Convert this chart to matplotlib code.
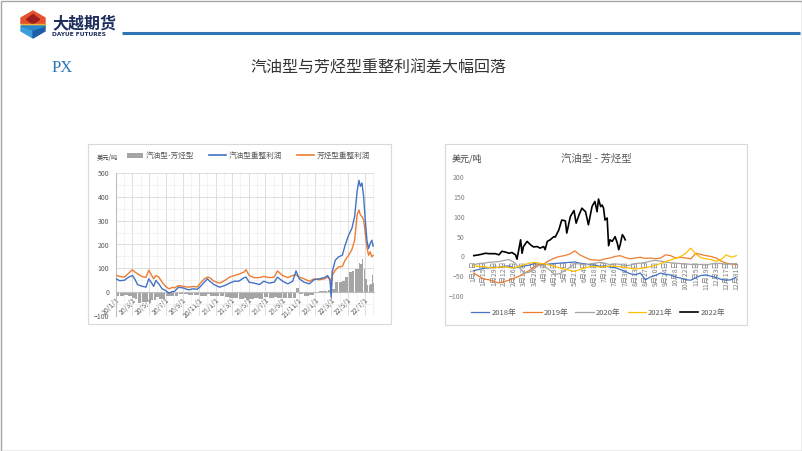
import matplotlib.pyplot as plt
import matplotlib.dates as mdates
from matplotlib.patches import Polygon, Rectangle, Patch
from matplotlib.lines import Line2D
import numpy as np
import pandas as pd

plt.rcParams['font.family'] = ['Noto Sans CJK SC', 'DejaVu Sans']

# 左图：汽油型/芳烃型重整利润 (美元/吨)
dates_l = ['2020-01-02', '2020-01-15', '2020-02-01', '2020-02-15', '2020-03-01', '2020-03-10',
           '2020-03-20', '2020-04-05', '2020-04-20', '2020-04-30', '2020-05-10', '2020-05-18',
           '2020-05-26', '2020-06-06', '2020-06-18', '2020-07-01', '2020-07-13', '2020-07-25',
           '2020-08-03', '2020-08-18', '2020-09-05', '2020-09-22', '2020-10-12', '2020-10-25',
           '2020-11-03', '2020-11-20', '2020-12-01', '2020-12-10', '2020-12-25', '2021-01-15',
           '2021-02-03', '2021-02-20', '2021-03-10', '2021-03-26', '2021-04-15', '2021-04-22',
           '2021-05-03', '2021-05-21', '2021-06-10', '2021-06-26', '2021-07-15', '2021-08-03',
           '2021-08-15', '2021-09-03', '2021-09-22', '2021-10-10', '2021-10-22', '2021-11-03',
           '2021-11-20', '2021-12-10', '2021-12-27', '2022-01-15', '2022-02-03', '2022-02-15',
           '2022-02-24', '2022-02-28', '2022-03-04', '2022-03-15', '2022-03-27', '2022-04-10',
           '2022-04-20', '2022-05-03', '2022-05-15', '2022-05-25', '2022-06-03', '2022-06-10',
           '2022-06-15', '2022-06-21', '2022-06-27', '2022-07-03', '2022-07-09', '2022-07-15',
           '2022-07-21', '2022-07-27', '2022-08-01']
gasoline = [55, 48, 50, 62, 70, 55, 32, 25, 21, 56, 40, 24,
            49, 35, 14, 7, -4, 2, 4, 21, 17, 10, 14, 12,
            21, 42, 56, 46, 32, 21, 28, 38, 46, 46, 61, 63,
            42, 38, 32, 46, 38, 42, 63, 46, 35, 46, 89, 56,
            42, 35, 52, 56, 61, 70, 49, -21, 85, 134, 148, 155,
            197, 239, 268, 317, 423, 469, 444, 458, 401, 303, 218, 183,
            204, 218, 193]
aromatic = [70, 66, 63, 78, 94, 85, 77, 66, 62, 92, 72, 56,
            70, 63, 42, 24, 14, 20, 18, 28, 24, 21, 24, 22,
            35, 56, 63, 61, 46, 38, 49, 63, 70, 75, 85, 94,
            70, 61, 61, 66, 61, 63, 89, 70, 61, 70, 72, 63,
            56, 46, 56, 52, 56, 63, 56, 7, 70, 92, 106, 108,
            134, 155, 179, 218, 324, 345, 324, 317, 303, 246, 190, 155,
            169, 148, 155]
xtick_dates_l = ['2020-01-01', '2020-03-01', '2020-05-01', '2020-07-01', '2020-09-01', '2020-11-01',
                 '2021-01-01', '2021-03-01', '2021-05-01', '2021-07-01', '2021-09-01', '2021-11-01',
                 '2022-01-01', '2022-03-01', '2022-05-01', '2022-07-01']
xtick_labels_l = ['20/1/1', '20/3/1', '20/5/1', '20/7/1', '20/9/1', '20/11/1',
                  '21/1/1', '21/3/1', '21/5/1', '21/7/1', '21/9/1', '21/11/1',
                  '22/1/1', '22/3/1', '22/5/1', '22/7/1']

# 右图：汽油型-芳烃型 季节性 (按周读数)
doy_week = list(range(0, 365, 7))
y2018 = [-36, -33, -30, -29, -27, -28, -25, -24, -29, -27, -24, -22, -18, -20, -21, -19, -18, -17,
         -16, -15, -14, -17, -19, -21, -22, -25, -24, -27, -28, -33, -38, -44, -46, -42, -59, -52,
         -48, -42, -45, -47, -52, -55, -59, -60, -54, -48, -47, -50, -53, -58, -60, -59, -52]
y2019 = [-42, -50, -57, -59, -63, -67, -64, -60, -55, -50, -42, -36, -25, -20, -18, -10, -4, 0,
         2, 6, 14, 4, -2, -8, -9, -10, -6, -4, 0, 2, -3, -6, -4, -2, -5, -4,
         -6, -4, 4, 2, -4, -2, -4, -6, 8, 5, 2, 0, -4, -12, -17, -19, -21]
y2020 = [-21, -18, -17, -15, -14, -13, -10, -8, -15, -28, -42, -40, -30, -22, -25, -34, -45, -44,
         -36, -28, -18, -19, -21, -19, -17, -15, -17, -21, -19, -20, -24, -22, -18, -17, -15, -12,
         -10, -12, -14, -16, -17, -18, -19, -20, -21, -20, -22, -19, -17, -18, -20, -19, -18]
y2021 = [-24, -25, -26, -28, -29, -27, -26, -28, -29, -25, -21, -17, -15, -17, -19, -22, -25, -29,
         -32, -35, -38, -33, -29, -26, -25, -27, -26, -24, -25, -26, -28, -30, -32, -30, -29, -26,
         -22, -18, -13, -9, -5, 0, 8, 21, 6, -3, -6, -8, -12, -8, 4, -2, 2]
doy_2022 = [0, 7, 12, 16, 21, 30, 35, 39, 44, 49, 53, 58, 60, 65, 67, 69, 74, 79, 83, 88, 92, 97,
            99, 102, 106, 111, 113, 118, 122, 127, 129, 134, 139, 142, 146, 150, 155, 159, 164,
            168, 171, 173, 176, 178, 180, 182, 185, 187, 189, 192, 196, 199, 201, 203, 206, 208, 210]
y2022 = [2, 4, 6, 8, 7, 7, 4, 13, 11, 8, 10, 4, -7, 42, 8, 25, 38, 29, 24, 25, 21, 25,
         17, 38, 42, 50, 49, 67, 92, 90, 59, 101, 116, 84, 105, 122, 113, 80, 126,
         139, 113, 145, 126, 130, 122, 92, 97, 27, 42, 38, 50, 34, 17, 29, 55, 50, 42]
xtick_doy = list(range(0, 365, 14))
xtick_labels_r = ['1月1日', '1月15日', '1月29日', '2月12日', '2月26日', '3月12日', '3月26日',
                  '4月9日', '4月23日', '5月7日', '5月21日', '6月4日', '6月18日', '7月2日',
                  '7月16日', '7月30日', '8月13日', '8月27日', '9月10日', '9月24日', '10月8日',
                  '10月22日', '11月5日', '11月19日', '12月3日', '12月17日', '12月31日']

W, H = 802, 451
fig = plt.figure(figsize=(W / 100, H / 100), dpi=100)

# 背景层（像素坐标）
bg = fig.add_axes([0, 0, 1, 1], zorder=0)
bg.set_xlim(0, W)
bg.set_ylim(H, 0)
bg.axis('off')
bg.add_patch(Rectangle((0.5, 0.5), W - 1, H - 1, fill=False, ec='#A6A6A6', lw=1))

# logo
bg.add_patch(Polygon([(33, 11), (45, 18), (45, 24), (21, 24), (21, 18)], color='#E4512B'))
bg.add_patch(Polygon([(33, 14.5), (39.5, 19.5), (33, 24), (26.5, 19.5)], color='#9C1E1E'))
bg.add_patch(Polygon([(21, 24), (45, 24), (45, 26), (21, 26)], color='#F2B632'))
bg.add_patch(Polygon([(21, 26), (33, 30), (33, 38), (21, 31)], color='#3C9FDB'))
bg.add_patch(Polygon([(45, 26), (33, 30), (33, 38), (45, 31)], color='#1D5EA8'))
bg.add_patch(Polygon([(21, 26), (45, 26), (33, 30)], color='#2B86C9'))
bg.text(52, 23, '大越期货', fontsize=11.5, fontweight='bold', color='#1E2D5C', va='center', ha='left')
bg.text(52, 35, 'DAYUE FUTURES', fontsize=4.2, fontweight='bold', color='#1E2D5C',
        va='center', ha='left', family='DejaVu Sans')
bg.plot([122, 800], [33, 33], color='#2E75B6', lw=2.2, solid_capstyle='butt')

bg.text(52, 68, 'PX', fontsize=12, color='#2E75B6', va='center', ha='left', family='Liberation Serif')
bg.text(378, 68, '汽油型与芳烃型重整利润差大幅回落', fontsize=11.5, color='#333333',
        va='center', ha='center')

# 图框
bg.add_patch(Rectangle((88, 144), 303, 180, fc='white', ec='#D9D9D9', lw=0.8))
bg.add_patch(Rectangle((445, 144), 302, 181, fc='white', ec='#D9D9D9', lw=0.8))

# ---------- 左图 ----------
ax1 = fig.add_axes([116 / W, 1 - 316 / H, 258 / W, 143 / H], zorder=2)
ax1.set_facecolor('none')
ax1.spines['bottom'].set_position(('data', 0))
dts = pd.to_datetime(dates_l)
xnum = mdates.date2num(dts)
g = np.array(gasoline)
a = np.array(aromatic)
diff = g - a
widths = np.append(np.diff(xnum), 5) * 0.9
ax1.bar(xnum, diff, width=widths, color='#A5A5A5', zorder=2, align='edge')
ax1.plot(xnum, g, color='#4472C4', lw=1.0, zorder=4)
ax1.plot(xnum, a, color='#ED7D31', lw=1.0, zorder=3)
ax1.set_xlim(mdates.date2num(pd.Timestamp('2020-01-01')), mdates.date2num(pd.Timestamp('2022-08-04')))
ax1.set_ylim(-100, 500)
ax1.set_yticks(range(-100, 501, 100))
ax1.set_yticks(range(-50, 501, 100), minor=True)
ax1.set_xticks(mdates.date2num(pd.to_datetime(xtick_dates_l)))
ax1.set_xticklabels(xtick_labels_l, rotation=45, ha='right', rotation_mode='anchor')
ax1.xaxis.set_minor_locator(mdates.MonthLocator())
ax1.grid(which='major', color='#D9D9D9', lw=0.6, zorder=0)
ax1.grid(which='minor', color='#EFEFEF', lw=0.5, zorder=0)
ax1.set_axisbelow(True)
ax1.spines['bottom'].set_color('#BFBFBF')
ax1.spines['left'].set_color('#BFBFBF')
ax1.spines['top'].set_visible(False)
ax1.spines['right'].set_visible(False)
ax1.tick_params(which='both', length=0, labelsize=5, labelcolor='#595959')
ax1.tick_params(axis='x', pad=3)
ax1.tick_params(axis='y', pad=5)

fig.text(97 / W, 1 - 158 / H, '美元/吨', fontsize=4.5, color='#404040', va='center', ha='left')
h1 = [Patch(facecolor='#A5A5A5'), Line2D([], [], color='#4472C4', lw=1.2),
      Line2D([], [], color='#ED7D31', lw=1.2)]
fig.legend(h1, ['汽油型-芳烃型', '汽油型重整利润', '芳烃型重整利润'], loc='center',
           bbox_to_anchor=(248 / W, 1 - 156 / H), ncol=3, frameon=False, fontsize=5.5,
           handlelength=2.2, handleheight=0.6, columnspacing=2.0, handletextpad=0.3,
           labelcolor='#595959')

# ---------- 右图 ----------
ax2 = fig.add_axes([473 / W, 1 - 296 / H, 264 / W, 118.7 / H], zorder=2)
ax2.set_facecolor('none')
ax2.spines['bottom'].set_position(('data', 0))
ax2.plot(doy_week, y2018, color='#4472C4', lw=0.9, label='2018年')
ax2.plot(doy_week, y2019, color='#ED7D31', lw=0.9, label='2019年')
ax2.plot(doy_week, y2020, color='#A5A5A5', lw=0.9, label='2020年')
ax2.plot(doy_week, y2021, color='#FFC000', lw=0.9, label='2021年')
ax2.plot(doy_2022, y2022, color='black', lw=1.2, label='2022年')
ax2.set_xlim(-1, 365)
ax2.set_ylim(-100, 200)
ax2.set_yticks(range(-100, 201, 50))
ax2.set_xticks(xtick_doy)
ax2.set_xticklabels(xtick_labels_r, rotation=90, ha='center', va='top')
for s in ['top', 'right', 'left']:
    ax2.spines[s].set_visible(False)
ax2.spines['bottom'].set_color('none')
ax2.tick_params(which='both', length=0, labelsize=5, labelcolor='#7F7F7F')
ax2.tick_params(axis='x', pad=3)
ax2.tick_params(axis='y', pad=6)

fig.text(452 / W, 1 - 159 / H, '美元/吨', fontsize=6.5, color='#404040', va='center', ha='left')
fig.text(596 / W, 1 - 159 / H, '汽油型 - 芳烃型', fontsize=7.5, color='#595959', va='center', ha='center')
fig.legend(*ax2.get_legend_handles_labels(), loc='center', bbox_to_anchor=(598 / W, 1 - 313 / H),
           ncol=5, frameon=False, fontsize=5.5, handlelength=2.4, columnspacing=0.9,
           handletextpad=0.3, labelcolor='#595959')

fig.savefig('out.png', dpi=100, facecolor='white')
